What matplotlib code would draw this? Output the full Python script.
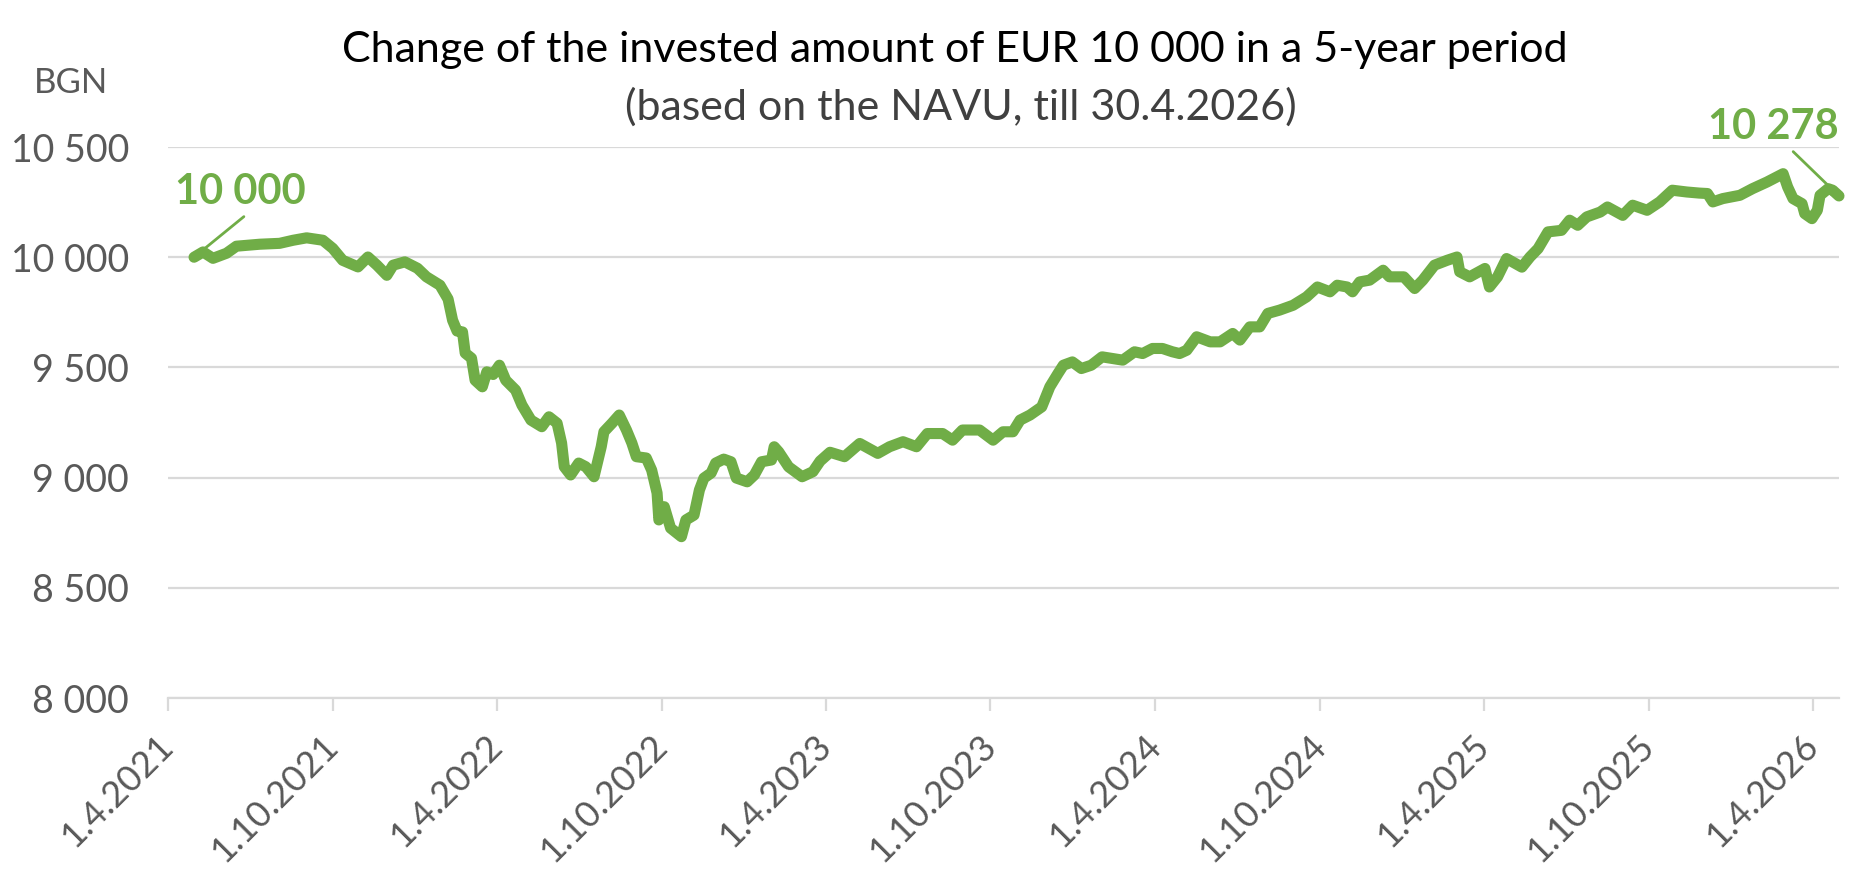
import matplotlib
matplotlib.use("Agg")
import matplotlib.pyplot as plt
import pandas as pd

# NAVU-based value of an investment of 10 000
dates = [
    "2021-04-30", "2021-05-10", "2021-05-21", "2021-06-05", "2021-06-16", "2021-07-12",
    "2021-08-03", "2021-08-18", "2021-09-02", "2021-09-20", "2021-10-01", "2021-10-12",
    "2021-10-29", "2021-11-09", "2021-11-19", "2021-11-30", "2021-12-07", "2021-12-20",
    "2022-01-03", "2022-01-13", "2022-01-28", "2022-02-06", "2022-02-11", "2022-02-16",
    "2022-02-22", "2022-02-25", "2022-03-04", "2022-03-08", "2022-03-16", "2022-03-21",
    "2022-03-28", "2022-04-04", "2022-04-11", "2022-04-22", "2022-04-29", "2022-05-09",
    "2022-05-21", "2022-05-29", "2022-06-07", "2022-06-12", "2022-06-15", "2022-06-22",
    "2022-07-01", "2022-07-09", "2022-07-18", "2022-07-26", "2022-07-29", "2022-08-07",
    "2022-08-15", "2022-08-23", "2022-08-29", "2022-09-03", "2022-09-14", "2022-09-20",
    "2022-09-26", "2022-09-28", "2022-10-04", "2022-10-11", "2022-10-23", "2022-10-28",
    "2022-11-06", "2022-11-12", "2022-11-17", "2022-11-25", "2022-11-30", "2022-12-09",
    "2022-12-17", "2022-12-23", "2023-01-04", "2023-01-12", "2023-01-20", "2023-01-31",
    "2023-02-03", "2023-02-08", "2023-02-19", "2023-03-06", "2023-03-18", "2023-03-26",
    "2023-04-06", "2023-04-22", "2023-05-09", "2023-05-29", "2023-06-11", "2023-06-26",
    "2023-07-11", "2023-07-23", "2023-08-09", "2023-08-20", "2023-08-31", "2023-09-19",
    "2023-10-04", "2023-10-15", "2023-10-26", "2023-11-03", "2023-11-14", "2023-11-27",
    "2023-12-06", "2023-12-15", "2023-12-21", "2023-12-31", "2024-01-10", "2024-01-21",
    "2024-02-02", "2024-02-14", "2024-02-25", "2024-03-09", "2024-03-18", "2024-03-29",
    "2024-04-09", "2024-04-20", "2024-04-28", "2024-05-06", "2024-05-17", "2024-06-01",
    "2024-06-12", "2024-06-26", "2024-07-04", "2024-07-15", "2024-07-26", "2024-08-04",
    "2024-08-17", "2024-09-01", "2024-09-16", "2024-09-28", "2024-10-12", "2024-10-20",
    "2024-10-31", "2024-11-06", "2024-11-14", "2024-11-25", "2024-12-10", "2024-12-17",
    "2025-01-02", "2025-01-14", "2025-01-23", "2025-02-05", "2025-02-19", "2025-03-02",
    "2025-03-05", "2025-03-16", "2025-04-02", "2025-04-07", "2025-04-16", "2025-04-26",
    "2025-05-13", "2025-05-22", "2025-05-31", "2025-06-11", "2025-06-26", "2025-07-05",
    "2025-07-14", "2025-07-24", "2025-08-08", "2025-08-16", "2025-09-02", "2025-09-13",
    "2025-09-29", "2025-10-13", "2025-10-27", "2025-11-12", "2025-11-26", "2025-12-05",
    "2025-12-11", "2025-12-22", "2026-01-10", "2026-01-24", "2026-02-09", "2026-02-27",
    "2026-03-04", "2026-03-10", "2026-03-20", "2026-03-23", "2026-03-31", "2026-04-06",
    "2026-04-09", "2026-04-18", "2026-04-23", "2026-04-30",
]
values = [
    10000, 10024, 9995, 10018, 10050, 10059,
    10063, 10077, 10088, 10077, 10040, 9986,
    9956, 10001, 9964, 9918, 9964, 9979,
    9950, 9911, 9873, 9810, 9714, 9665,
    9661, 9565, 9542, 9442, 9412, 9480,
    9468, 9510, 9442, 9397, 9329, 9261,
    9231, 9276, 9247, 9157, 9049, 9012,
    9066, 9049, 9004, 9140, 9208, 9247,
    9284, 9216, 9157, 9095, 9089, 9034,
    8930, 8808, 8868, 8771, 8732, 8808,
    8830, 8944, 8998, 9021, 9066, 9084,
    9072, 8998, 8981, 9012, 9072, 9080,
    9140, 9117, 9049, 9004, 9027, 9075,
    9115, 9095, 9155, 9110, 9140, 9163,
    9140, 9200, 9200, 9170, 9216, 9216,
    9170, 9208, 9208, 9261, 9284, 9321,
    9412, 9472, 9510, 9525, 9495, 9510,
    9548, 9540, 9533, 9571, 9563, 9586,
    9586, 9571, 9563, 9578, 9639, 9616,
    9616, 9654, 9624, 9684, 9684, 9745,
    9760, 9782, 9820, 9865, 9843, 9873,
    9865, 9843, 9888, 9896, 9941, 9911,
    9911, 9858, 9896, 9964, 9986, 10001,
    9934, 9911, 9949, 9865, 9911, 9994,
    9955, 10001, 10039, 10115, 10122, 10168,
    10145, 10183, 10205, 10228, 10190, 10236,
    10213, 10251, 10304, 10296, 10291, 10289,
    10251, 10266, 10281, 10311, 10341, 10379,
    10319, 10266, 10243, 10198, 10175, 10213,
    10281, 10311, 10304, 10278,
]

tick_dates = ["2021-04-01", "2021-10-01", "2022-04-01", "2022-10-01", "2023-04-01",
              "2023-10-01", "2024-04-01", "2024-10-01", "2025-04-01", "2025-10-01",
              "2026-04-01"]
tick_labels = ["1.4.2021", "1.10.2021", "1.4.2022", "1.10.2022", "1.4.2023",
               "1.10.2023", "1.4.2024", "1.10.2024", "1.4.2025", "1.10.2025",
               "1.4.2026"]
y_ticks = [8000, 8500, 9000, 9500, 10000, 10500]
y_labels = ["8 000", "8 500", "9 000", "9 500", "10 000", "10 500"]

green = "#70AD47"
grey_text = "#595959"
grid_col = "#D9D9D9"

plt.rcParams["font.family"] = ["Lato", "DejaVu Sans"]

x = pd.to_datetime(dates)

fig = plt.figure(figsize=(18.7, 8.71), dpi=100)
ax = fig.add_axes([0.0898, 0.1986, 0.8936, 0.6326])

ax.plot(x, values, color=green, linewidth=8, solid_joinstyle="round",
        solid_capstyle="round", clip_on=False, zorder=3)

ax.set_ylim(8000, 10500)
ax.set_xlim(pd.Timestamp("2021-04-01"), pd.Timestamp("2026-04-30"))

ax.set_yticks(y_ticks)
ax.set_yticklabels(y_labels)
ax.set_xticks(pd.to_datetime(tick_dates))
ax.set_xticklabels(tick_labels, rotation=45, ha="right", va="center",
                   rotation_mode="anchor")

ax.grid(axis="y", color=grid_col, linewidth=1.6)
ax.set_axisbelow(True)
for side in ["top", "right", "left"]:
    ax.spines[side].set_visible(False)
ax.spines["bottom"].set_color(grid_col)
ax.spines["bottom"].set_linewidth(1.6)

ax.tick_params(axis="y", length=0, pad=28, labelsize=27, labelcolor=grey_text)
ax.tick_params(axis="x", length=9.5, width=1.6, color=grid_col, pad=21,
               labelsize=26, labelcolor=grey_text)

# start / end data labels with leader lines
ax.annotate("10 000", xy=(x[0], values[0]), xytext=(46, 65), textcoords="offset pixels",
            ha="center", va="center", fontsize=30, fontweight="bold", color=green,
            arrowprops=dict(arrowstyle="-", color=green, lw=2, shrinkA=3, shrinkB=9,
                            relpos=(0.58, 0.0)))
ax.annotate("10 278", xy=(x[-1], values[-1]), xytext=(-66, 69), textcoords="offset pixels",
            ha="center", va="center", fontsize=30, fontweight="bold", color=green,
            arrowprops=dict(arrowstyle="-", color=green, lw=2, shrinkA=3, shrinkB=10,
                            relpos=(0.61, 0.0)))

fig.text(0.018, 0.905, "BGN", fontsize=25, color=grey_text, ha="left", va="center")
fig.text(0.5105, 0.943, "Change of the invested amount of EUR 10 000 in a 5-year period",
         fontsize=31, color="black", ha="center", va="center")
fig.text(0.5136, 0.877, "(based on the NAVU, till 30.4.2026)",
         fontsize=31, color="#404040", ha="center", va="center")

fig.savefig("out.png", dpi=100)
